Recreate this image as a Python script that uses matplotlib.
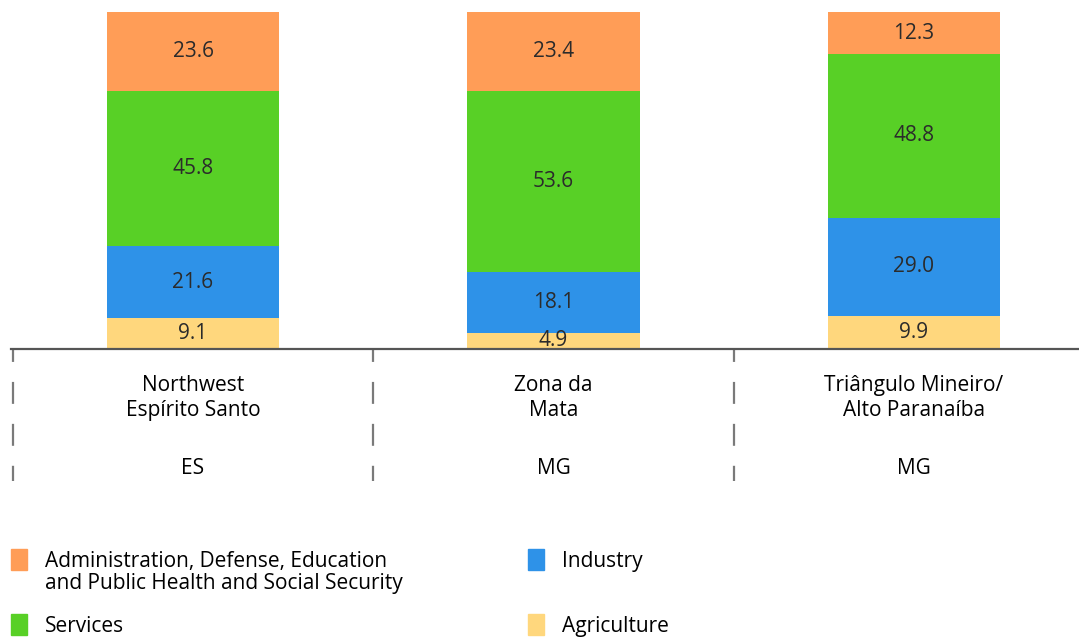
import matplotlib.pyplot as plt
import matplotlib.transforms as mtransforms
from matplotlib.patches import Rectangle
import numpy as np

plt.rcParams['font.family'] = ['Open Sans', 'DejaVu Sans']
plt.rcParams['lines.scale_dashes'] = False

regions = ['Northwest\nEspírito Santo', 'Zona da\nMata', 'Triângulo Mineiro/\nAlto Paranaíba']
states = ['ES', 'MG', 'MG']

series = ['Agriculture', 'Industry', 'Services',
          'Administration, Defense, Education\nand Public Health and Social Security']
agriculture = [9.1, 4.9, 9.9]
industry = [21.6, 18.1, 29.0]
services = [45.8, 53.6, 48.8]
administration = [23.6, 23.4, 12.3]
colors = ['#FFD77D', '#2E92E8', '#58D026', '#FF9D57']

values = [agriculture, industry, services, administration]

fig = plt.figure(figsize=(10.79, 6.37), dpi=100)
W, H = 1079, 637
ax = fig.add_axes([11 / W, 1 - 349 / H, (1079 - 11) / W, 337 / H])

x = np.arange(len(regions))
bottom = np.zeros(len(regions))
for vals, col in zip(values, colors):
    bars = ax.bar(x, vals, width=0.478, bottom=bottom, color=col, linewidth=0)
    ax.bar_label(bars, labels=['%.1f' % v for v in vals], label_type='center',
                 fontsize=15, color='#2b2b2b')
    bottom += np.array(vals)

ax.set_xlim(-0.505, 2.458)
ax.set_ylim(0, 100.1)
ax.set_yticks([])
for s in ['top', 'right', 'left']:
    ax.spines[s].set_visible(False)
ax.spines['bottom'].set_color('#555555')
ax.spines['bottom'].set_linewidth(1.6)

ax.set_xticks(x)
ax.set_xticklabels(regions, fontsize=15, linespacing=1.25)
ax.tick_params(axis='x', length=0, pad=19)

trans = mtransforms.blended_transform_factory(ax.transData, fig.transFigure)
for sx in [-0.5, 0.5, 1.5]:
    ax.plot([sx, sx], [1 - 349 / H, 1 - 481 / H], transform=trans, clip_on=False,
            color='#7a7a7a', lw=1.6, ls=(6.5, (15.8, 14.4)))
for xi, st in zip(x, states):
    ax.text(xi, 1 - 468 / H, st, transform=trans, ha='center', va='center', fontsize=15)

# legend
legend_items = [(series[3], colors[3], 11, 560), (series[1], colors[1], 528, 560),
                (series[2], colors[2], 11, 625), (series[0], colors[0], 528, 625)]
for name, col, px, py in legend_items:
    fig.patches.append(Rectangle((px / W, 1 - (py + 10) / H), 16 / W, 21 / H,
                                 transform=fig.transFigure, color=col))
    fig.text((px + 34) / W, 1 - (py - 9) / H, name, ha='left', va='top',
             fontsize=15, linespacing=1.05)

fig.savefig('out.png', dpi=100)
